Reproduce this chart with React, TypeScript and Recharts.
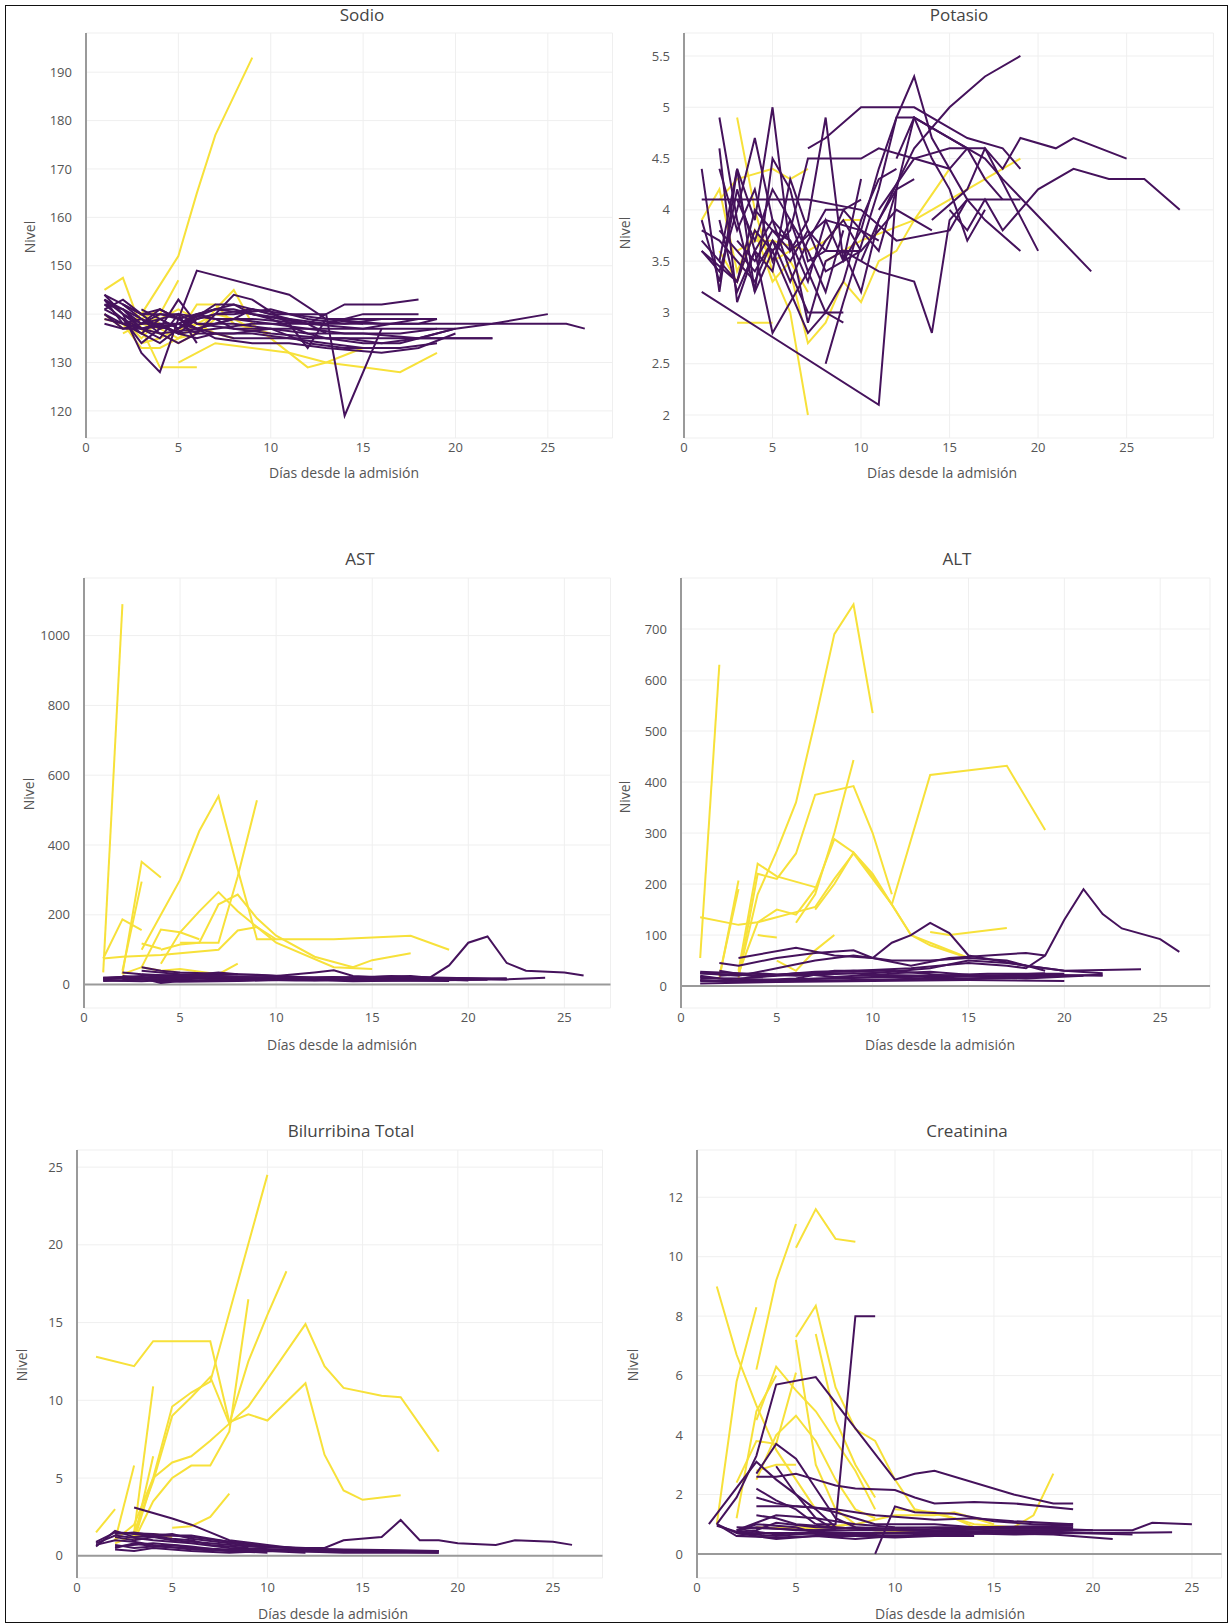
import { LineChart, Line, XAxis, YAxis, CartesianGrid, ReferenceLine } from 'recharts'

// cada serie: [día, valor]
type Serie = number[][]

const DIAS_TICKS = [0, 5, 10, 15, 20, 25]
const SODIO_TICKS = [120, 130, 140, 150, 160, 170, 180, 190]
const POTASIO_TICKS = [2, 2.5, 3, 3.5, 4, 4.5, 5, 5.5]
const AST_TICKS = [0, 200, 400, 600, 800, 1000]
const ALT_TICKS = [0, 100, 200, 300, 400, 500, 600, 700]
const BILI_TICKS = [0, 5, 10, 15, 20, 25]
const CREAT_TICKS = [0, 2, 4, 6, 8, 10, 12]

const SODIO_AMARILLO: Serie[] = [
  [[3, 140], [4, 146], [5, 152], [6, 165], [7, 177], [8, 185], [9, 193]],
  [[1, 145], [2, 147.5], [3, 137], [4, 129], [5, 129], [6, 129]],
  [[5, 130], [6, 132], [7, 134], [11, 132], [13, 130], [15, 129], [17, 128], [19, 132]],
  [[2, 138], [3, 136], [4, 140], [5, 147]],
  [[6, 136], [7, 141], [8, 145], [9, 138], [11, 132], [12, 129], [13, 130], [15, 133]],
  [[1, 139], [2, 138], [3, 133], [4, 133], [5, 135], [6, 136], [7, 139]],
  [[2, 137], [3, 140], [4, 138], [5, 136], [6, 142], [7, 142], [8, 138], [10, 136]],
  [[3, 137], [4, 136], [5, 134], [6, 136]],
  [[2, 139], [3, 135], [4, 139], [5, 141], [6, 139]],
  [[2, 136], [3, 138], [4, 137], [5, 135], [6, 138], [7, 140], [8, 139], [9, 137]],
  [[3, 134], [4, 135], [5, 137], [6, 138], [7, 136], [8, 135]],
  [[1, 140], [2, 137], [3, 139], [4, 141], [5, 139]],
]

const SODIO_MORADO: Serie[] = [
  [[1, 144], [2, 140], [3, 132], [4, 128], [5, 139], [6, 149], [11, 144], [13, 139], [15, 139], [17, 139], [19, 139]],
  [[1, 143], [2, 141], [3, 138], [4, 139], [5, 137], [6, 140], [8, 142], [10, 140], [12, 140], [13, 140], [14, 119], [16, 137]],
  [[1, 142], [2, 139], [3, 137], [5, 138], [7, 141], [9, 140], [12, 138], [14, 142], [16, 142], [18, 143]],
  [[1, 141], [2, 143], [3, 140], [4, 137], [5, 138], [6, 136], [8, 136], [10, 137], [12, 136], [15, 136], [18, 135], [20, 137], [22, 138], [25, 140]],
  [[1, 139], [2, 138], [3, 139], [5, 136], [7, 137], [9, 138], [11, 138], [14, 138], [17, 138], [19, 138], [22, 138], [24, 138], [26, 138], [27, 137]],
  [[1, 143], [2, 138], [3, 136], [4, 139], [5, 140], [6, 138], [8, 137], [10, 136], [13, 135], [16, 135], [19, 135], [22, 135]],
  [[2, 142], [3, 139], [4, 136], [5, 134], [6, 136], [8, 144], [9, 143], [11, 138], [12, 133], [13, 139], [15, 138]],
  [[1, 140], [2, 137], [3, 138], [4, 141], [5, 139], [6, 137], [7, 135], [9, 134], [11, 134], [13, 133], [16, 132], [18, 133], [20, 136]],
  [[2, 141], [3, 137], [4, 135], [5, 140], [6, 134]],
  [[1, 144], [2, 142], [3, 140], [5, 140], [7, 139], [9, 139], [12, 138], [15, 137], [18, 139], [19, 139]],
  [[2, 139], [3, 134], [4, 137], [5, 143], [6, 138], [8, 138], [10, 137], [12, 134], [14, 133], [16, 133]],
  [[3, 138], [4, 140], [5, 139], [7, 141], [8, 141], [10, 139], [12, 136], [13, 135], [15, 134], [17, 134], [19, 136], [20, 137]],
  [[1, 143], [2, 140], [3, 137], [4, 138], [5, 136], [6, 139], [7, 140], [9, 141], [11, 140], [13, 139], [16, 138], [18, 138], [19, 139]],
  [[1, 142], [2, 141], [3, 139], [4, 137], [5, 138], [6, 137], [7, 138], [8, 139], [10, 138], [12, 137], [14, 137], [17, 137], [20, 137]],
  [[2, 140], [3, 138], [4, 138], [5, 136], [6, 135], [7, 136], [9, 136], [11, 135], [13, 134], [15, 133], [17, 133], [19, 134]],
  [[1, 141], [2, 139], [3, 136], [4, 134], [5, 137], [7, 142], [8, 142], [9, 140], [11, 139], [13, 138], [15, 140], [18, 140]],
  [[3, 141], [4, 139], [5, 137], [6, 139], [7, 140], [8, 140], [10, 141], [12, 139], [14, 138], [16, 139], [18, 139]],
  [[1, 140], [2, 138], [4, 136], [6, 137], [8, 135], [10, 135], [12, 135], [14, 135], [16, 134], [18, 135], [20, 135], [22, 135]],
  [[2, 142], [3, 140], [4, 141], [5, 139], [6, 137], [8, 139], [9, 141], [10, 140], [12, 138], [13, 136]],
  [[1, 138], [2, 137], [3, 137], [4, 138], [5, 138], [6, 140], [7, 139], [8, 137], [10, 137], [12, 137], [14, 136], [17, 136], [19, 137]],
]

const POTASIO_AMARILLO: Serie[] = [
  [[3, 4.9], [4, 4.0], [5, 3.4], [6, 3.0], [7, 2.0]],
  [[3, 2.9], [4, 2.9], [5, 2.9]],
  [[6, 3.4], [7, 2.7], [8, 2.9], [9, 3.3], [10, 3.1], [11, 3.5], [12, 3.6], [13, 3.9], [15, 4.4]],
  [[8, 3.5], [9, 3.6], [10, 3.7], [13, 3.9], [15, 4.1], [17, 4.3], [19, 4.5]],
  [[1, 3.9], [2, 4.2], [3, 3.4], [4, 3.8], [5, 3.5], [6, 3.6]],
  [[2, 4.1], [3, 4.3], [5, 4.4], [6, 4.3], [7, 4.4]],
  [[3, 3.6], [4, 3.7], [5, 3.7], [7, 3.6], [8, 3.7], [9, 3.9], [10, 3.9]],
  [[2, 3.6], [3, 3.3], [4, 3.8], [5, 3.3], [6, 3.5], [7, 3.2]],
]

const POTASIO_MORADO: Serie[] = [
  [[1, 3.2], [11, 2.1], [12, 4.2], [13, 4.9], [14, 4.8], [16, 4.6], [17, 4.3], [18, 4.1]],
  [[8, 2.5], [9, 3.1], [11, 4.2], [12, 4.9], [13, 5.3], [14, 4.7], [16, 4.1], [17, 3.9], [19, 3.6]],
  [[10, 3.5], [11, 3.9], [13, 4.6], [15, 5.0], [17, 5.3], [19, 5.5]],
  [[14, 3.9], [16, 4.2], [17, 4.6], [18, 4.4], [19, 4.7], [21, 4.6], [22, 4.7], [25, 4.5]],
  [[15, 4.0], [16, 3.8], [17, 4.1], [18, 3.8], [20, 4.2], [22, 4.4], [24, 4.3], [26, 4.3], [28, 4.0]],
  [[12, 4.5], [13, 4.9], [15, 4.7], [17, 4.5], [18, 4.3], [23, 3.4]],
  [[11, 4.0], [13, 4.5], [15, 4.6], [17, 4.6], [20, 3.6]],
  [[9, 3.6], [11, 3.4], [13, 3.3], [14, 2.8], [15, 3.9], [16, 4.1], [19, 4.1]],
  [[1, 4.1], [4, 4.1], [7, 4.1], [10, 4.0], [12, 3.7], [15, 3.8], [16, 4.1]],
  [[7, 4.6], [8, 4.7], [10, 5.0], [13, 5.0], [15, 4.8], [16, 4.7], [18, 4.6], [19, 4.4]],
  [[2, 4.9], [3, 3.9], [4, 3.2], [5, 3.6], [7, 2.8], [8, 3.0], [9, 2.9]],
  [[1, 4.4], [2, 3.2], [3, 4.4], [4, 3.9], [5, 5.0], [6, 3.6], [7, 3.9], [8, 4.9], [9, 3.5], [10, 4.3]],
  [[1, 3.6], [2, 3.4], [3, 4.0], [4, 4.7], [5, 3.9], [6, 3.4], [7, 3.0], [9, 3.0]],
  [[2, 4.6], [3, 3.1], [4, 3.6], [5, 2.8], [6, 3.1], [7, 3.4], [8, 3.7], [9, 3.9], [10, 3.6]],
  [[1, 3.7], [2, 3.5], [3, 4.4], [4, 3.2], [5, 4.5], [6, 4.2], [7, 3.5], [8, 3.6], [9, 4.0], [11, 3.6], [12, 4.2], [13, 4.3]],
  [[2, 3.9], [3, 3.2], [4, 3.6], [5, 3.4], [6, 4.3], [7, 3.8], [8, 3.4], [10, 3.6], [11, 3.8], [12, 4.0], [14, 3.8]],
  [[1, 3.6], [3, 3.3], [4, 3.8], [5, 3.6], [6, 3.8], [7, 4.5], [10, 4.5], [11, 4.6], [13, 4.5], [15, 4.4], [16, 4.6]],
  [[3, 3.7], [4, 3.5], [5, 3.8], [6, 3.7], [7, 2.9], [8, 3.5], [9, 3.6], [10, 3.2], [11, 3.9], [12, 4.2]],
  [[2, 3.5], [3, 3.3], [4, 4.0], [6, 3.6], [8, 3.9], [10, 3.8], [11, 4.4], [12, 4.9], [13, 4.9], [14, 4.5], [15, 4.2], [16, 3.7], [17, 4.0]],
  [[1, 3.9], [2, 3.3], [3, 4.2], [4, 3.6], [5, 3.9], [6, 3.7], [7, 3.3], [8, 3.9], [9, 3.5], [10, 3.8], [11, 3.7]],
  [[2, 4.4], [3, 3.8], [4, 4.2], [5, 3.5], [6, 3.9], [7, 3.6], [8, 3.2], [9, 3.8]],
  [[1, 3.8], [2, 3.7], [3, 3.5], [4, 3.3], [5, 3.7], [6, 3.5], [7, 3.8], [8, 3.6], [9, 3.6], [10, 3.6]],
  [[3, 4.1], [4, 3.7], [5, 4.2], [6, 3.9], [7, 3.4], [8, 3.0], [9, 3.3], [10, 3.9], [11, 4.3], [12, 4.4]],
  [[2, 3.8], [3, 3.6], [4, 3.4], [5, 3.7], [6, 3.3], [7, 3.7], [8, 4.0], [9, 4.0], [10, 4.1]],
]

const AST_AMARILLO: Serie[] = [
  [[1, 35], [2, 1090]],
  [[1, 75], [2, 187], [3, 156]],
  [[2, 30], [3, 352], [4, 307]],
  [[2, 40], [3, 295]],
  [[3, 100], [4, 200], [5, 300], [6, 440], [7, 540], [8, 330], [9, 130], [10, 130], [13, 130], [17, 140], [19, 100]],
  [[4, 100], [5, 115], [6, 120], [7, 120], [8, 310], [9, 528]],
  [[4, 60], [5, 150], [6, 210], [7, 265], [8, 210], [10, 120], [13, 50], [15, 45]],
  [[5, 120], [6, 120], [7, 230], [8, 258], [9, 190], [10, 140], [12, 80], [14, 50], [15, 70], [17, 90]],
  [[3, 50], [4, 158], [5, 150], [6, 130]],
  [[1, 75], [2, 80], [4, 85], [7, 100], [8, 155], [9, 165], [10, 130]],
  [[2, 30], [3, 50], [4, 40], [5, 45], [7, 30], [8, 60]],
  [[3, 118], [4, 103]],
]

const AST_MORADO: Serie[] = [
  [[1, 20], [3, 25], [6, 30], [9, 28], [12, 20], [15, 22], [17, 25], [18, 20], [19, 55], [20, 120], [21, 138], [22, 62], [23, 40], [25, 35], [26, 26]],
  [[3, 50], [4, 40], [5, 35], [8, 30], [10, 25], [12, 35], [13, 41], [14, 25], [16, 20], [18, 20]],
  [[1, 18], [2, 22], [4, 15], [6, 18], [8, 12], [10, 15], [12, 18], [15, 20], [18, 15], [22, 15], [24, 20]],
  [[1, 15], [2, 20], [3, 18], [4, 5], [5, 10], [8, 15], [11, 12], [14, 14], [17, 18], [20, 12]],
  [[2, 35], [3, 30], [5, 25], [7, 35], [8, 30]],
  [[1, 12], [3, 10], [5, 15], [7, 20], [10, 22], [12, 18], [14, 20], [16, 25], [18, 20], [20, 18], [22, 15]],
  [[2, 15], [4, 25], [6, 20], [9, 18], [12, 15], [15, 12], [19, 10]],
  [[3, 40], [5, 30], [7, 25], [9, 20]],
  [[1, 10], [3, 15], [5, 8], [8, 10], [11, 15], [14, 10], [17, 12], [21, 14]],
  [[1, 20], [2, 18], [3, 22], [4, 10], [6, 12], [8, 18], [10, 20], [13, 22], [16, 18], [19, 16], [22, 18]],
  [[2, 25], [3, 20], [5, 18], [7, 22], [9, 15], [12, 14], [15, 18], [18, 16]],
  [[1, 14], [2, 12], [4, 20], [6, 25], [8, 20], [10, 15], [12, 12], [14, 16], [16, 15], [20, 15]],
  [[3, 30], [4, 22], [6, 28], [8, 22], [11, 20], [13, 18], [17, 22], [20, 18], [22, 16]],
]

const ALT_AMARILLO: Serie[] = [
  [[1, 55], [2, 630]],
  [[1, 135], [3, 120], [4, 125], [6, 145], [7, 155], [8, 210], [9, 260], [10, 210], [11, 160], [12, 100], [13, 85], [15, 55]],
  [[3, 20], [4, 180], [5, 265], [6, 360], [7, 520], [8, 690], [9, 748], [10, 535]],
  [[3, 15], [4, 220], [5, 210], [6, 260], [7, 375], [9, 392], [10, 300], [11, 180]],
  [[6, 124], [7, 180], [8, 300], [9, 443]],
  [[3, 25], [4, 125], [5, 150], [6, 140], [7, 190], [8, 288], [9, 262], [10, 220], [11, 160], [12, 100], [13, 80], [15, 55]],
  [[7, 150], [8, 200], [9, 262], [10, 215], [11, 160], [13, 414], [17, 432], [19, 306]],
  [[13, 106], [14, 100], [17, 114]],
  [[2, 15], [3, 207]],
  [[2, 20], [3, 190]],
  [[4, 100], [5, 95]],
  [[5, 50], [6, 30], [7, 70], [8, 100]],
  [[3, 30], [4, 240], [5, 215], [7, 194]],
]

const ALT_MORADO: Serie[] = [
  [[1, 25], [4, 20], [8, 28], [12, 35], [15, 45], [17, 40], [18, 35], [19, 60], [20, 130], [21, 190], [22, 141], [23, 113], [25, 92], [26, 67]],
  [[3, 55], [6, 75], [8, 60], [10, 55], [11, 85], [12, 100], [13, 124], [14, 104], [15, 60], [18, 40], [20, 30], [22, 25]],
  [[2, 45], [3, 40], [5, 55], [7, 65], [9, 70], [10, 55], [12, 40], [14, 55], [16, 60], [18, 65], [19, 60]],
  [[1, 25], [3, 20], [5, 35], [7, 50], [9, 60], [11, 50], [13, 50], [15, 55], [17, 50], [19, 30]],
  [[1, 15], [3, 15], [5, 20], [8, 25], [10, 25], [13, 35], [15, 50], [17, 45], [20, 30], [24, 33]],
  [[1, 10], [4, 10], [7, 15], [10, 18], [14, 20], [18, 18], [22, 22]],
  [[1, 5], [5, 8], [10, 10], [15, 12], [20, 10]],
  [[2, 20], [4, 25], [6, 20], [9, 25], [12, 15], [16, 20], [19, 25]],
  [[1, 20], [3, 10], [6, 15], [8, 30], [11, 30], [14, 20], [18, 15], [21, 20]],
  [[1, 28], [3, 25], [5, 22], [7, 28], [9, 30], [11, 25], [13, 28], [15, 22], [17, 20], [19, 22], [22, 20]],
  [[1, 12], [3, 8], [6, 10], [9, 12], [12, 14], [15, 15], [18, 16]],
  [[2, 30], [4, 18], [6, 25], [8, 18], [10, 22], [13, 20], [16, 24], [20, 24]],
  [[1, 18], [2, 15], [5, 12], [8, 15], [11, 18], [14, 12], [17, 18], [20, 20]],
]

const BILI_AMARILLO: Serie[] = [
  [[1, 12.8], [3, 12.2], [4, 13.8], [7, 13.8], [8, 8.6], [9, 9.1], [10, 8.7], [12, 11.1], [13, 6.5], [14, 4.2], [15, 3.6], [17, 3.9]],
  [[3, 1.0], [4, 5.0], [5, 9.6], [6, 10.5], [7, 11.2], [10, 24.5]],
  [[3, 1.5], [4, 4.8], [5, 9.0], [6, 10.2], [7, 11.5], [8, 8.5], [9, 12.5], [10, 15.5], [11, 18.3]],
  [[2, 1.0], [3, 2.0], [4, 5.0], [5, 6.0], [6, 6.4], [7, 7.4], [8, 8.5], [9, 9.6], [12, 14.9], [13, 12.2], [14, 10.8], [16, 10.3], [17, 10.2], [19, 6.7]],
  [[3, 1.0], [4, 3.5], [5, 5.0], [6, 5.8], [7, 5.8], [8, 8.0], [9, 16.5]],
  [[3, 1.5], [4, 10.9]],
  [[2, 1.0], [3, 5.8]],
  [[3, 1.0], [4, 6.4]],
  [[1, 1.5], [2, 3.0]],
  [[5, 1.8], [6, 1.9], [7, 2.5], [8, 4.0]],
  [[2, 0.8], [3, 1.3], [4, 1.4], [5, 1.2]],
]

const BILI_MORADO: Serie[] = [
  [[2, 1.5], [4, 1.4], [6, 1.2], [8, 0.9], [10, 0.6], [12, 0.5], [13, 0.5], [14, 1.0], [16, 1.2], [17, 2.3], [18, 1.0], [19, 1.0], [20, 0.8], [22, 0.7], [23, 1.0], [25, 0.9], [26, 0.7]],
  [[3, 3.1], [5, 2.4], [6, 2.0], [7, 1.5], [8, 1.0], [10, 0.7], [12, 0.4], [15, 0.3], [19, 0.2]],
  [[1, 0.6], [2, 1.6], [3, 1.2], [5, 1.3], [6, 1.3], [8, 0.9], [10, 0.6], [13, 0.4], [16, 0.3], [19, 0.3]],
  [[1, 0.8], [2, 1.3], [4, 1.0], [6, 0.8], [8, 0.5], [11, 0.4], [14, 0.3], [17, 0.3], [19, 0.3]],
  [[2, 0.4], [3, 0.3], [4, 0.5], [6, 0.3], [8, 0.2], [10, 0.3], [12, 0.2]],
  [[2, 0.7], [3, 0.5], [5, 0.7], [7, 0.4], [9, 0.3], [11, 0.3], [14, 0.2], [19, 0.2]],
  [[1, 0.9], [2, 1.5], [3, 1.4], [5, 1.1], [6, 1.0], [7, 0.7], [9, 0.5]],
  [[2, 0.6], [4, 0.8], [6, 0.6], [8, 0.3], [10, 0.2]],
  [[2, 1.2], [3, 1.0], [4, 1.2], [5, 1.0], [6, 0.9], [7, 0.8], [9, 0.6], [11, 0.5], [14, 0.4], [17, 0.35], [19, 0.3]],
  [[2, 0.5], [3, 0.8], [4, 0.6], [6, 0.5], [8, 0.4], [10, 0.35], [13, 0.3]],
  [[1, 0.7], [2, 1.0], [3, 0.9], [4, 0.7], [6, 0.4], [8, 0.3], [11, 0.3], [15, 0.25]],
  [[2, 1.4], [3, 1.5], [4, 1.3], [5, 1.4], [6, 1.1], [8, 0.8], [10, 0.5]],
]

const CREAT_AMARILLO: Serie[] = [
  [[5, 10.3], [6, 11.6], [7, 10.6], [8, 10.5]],
  [[3, 6.2], [4, 9.2], [5, 11.1]],
  [[1, 9.0], [2, 6.7], [3, 5.0], [4, 3.5], [5, 2.5], [6, 1.5]],
  [[1, 1.0], [2, 5.8], [3, 8.3]],
  [[5, 7.3], [6, 8.35], [7, 5.6], [8, 4.2], [9, 3.8], [10, 2.5], [11, 1.5], [13, 1.2], [14, 0.9]],
  [[5, 7.2], [6, 3.0], [7, 1.5], [8, 1.0]],
  [[6, 7.4], [7, 4.5], [8, 3.0], [9, 1.9]],
  [[3, 4.5], [4, 6.3], [5, 5.5], [6, 4.8], [7, 3.8], [8, 2.8], [9, 1.5]],
  [[3, 2.5], [4, 4.0], [5, 4.65], [6, 3.8], [7, 2.5], [8, 1.5], [9, 1.2]],
  [[2, 2.4], [3, 3.8], [4, 3.7], [5, 6.1]],
  [[3, 2.8], [4, 3.0], [5, 3.0]],
  [[10, 1.5], [12, 1.4], [14, 1.0], [16, 0.9], [17, 1.3], [18, 2.7]],
  [[2, 1.2], [3, 4.8], [4, 6.0]],
  [[4, 0.9], [6, 0.9], [8, 1.0], [10, 1.3], [12, 1.3], [13, 1.4], [14, 1.2], [15, 1.0]],
  [[3, 0.9], [5, 0.85], [7, 0.9], [9, 0.8], [11, 0.75]],
]

const CREAT_MORADO: Serie[] = [
  [[6, 1.0], [7, 1.0], [8, 8.0], [9, 8.0]],
  [[9, 0], [10, 1.6], [11, 1.4], [13, 1.35], [15, 1.1], [17, 1.0], [19, 1.0]],
  [[1, 1.0], [2, 1.9], [3, 3.3], [4, 5.7], [6, 5.95], [10, 2.5], [11, 2.7], [12, 2.8], [16, 2.0], [18, 1.7], [19, 1.7]],
  [[3, 2.6], [4, 2.6], [5, 2.7], [6, 2.5], [7, 2.3], [8, 2.2], [10, 2.15], [11, 1.9], [12, 1.7], [14, 1.75], [16, 1.7], [19, 1.5]],
  [[0.6, 1.0], [3, 3.1], [4, 2.5], [6, 1.5], [7, 0.9]],
  [[3, 2.7], [4, 3.7], [5, 3.2], [6, 2.2], [7, 1.2], [8, 0.9]],
  [[4, 2.95], [5, 2.0], [6, 1.2], [7, 0.8]],
  [[3, 2.2], [4, 1.8], [5, 1.5], [6, 1.0]],
  [[3, 1.9], [4, 1.7], [5, 1.6], [6, 1.55], [7, 1.4], [8, 1.2], [9, 1.0], [10, 1.0], [12, 1.0], [14, 0.9], [19, 0.95]],
  [[3, 1.6], [5, 1.6], [7, 1.5], [9, 1.3], [12, 1.15], [14, 1.2], [16, 1.1], [19, 1.0]],
  [[2, 0.8], [4, 1.3], [6, 1.2], [8, 1.0], [10, 0.9], [14, 0.85], [18, 0.85], [20, 0.8], [22, 0.8], [23, 1.05], [25, 1.0]],
  [[1, 1.0], [2, 0.7], [4, 0.6], [6, 0.7], [9, 0.7], [12, 0.65], [15, 0.7], [18, 0.7], [21, 0.7], [24, 0.73]],
  [[2, 0.6], [3, 0.7], [5, 0.7], [8, 0.6], [11, 0.6], [15, 0.7], [18, 0.65], [21, 0.5]],
  [[2, 0.8], [3, 0.9], [5, 0.8], [7, 0.8], [10, 0.8], [13, 0.75], [16, 0.8], [20, 0.8]],
  [[2, 0.7], [4, 0.5], [6, 0.6], [8, 0.5], [10, 0.6], [12, 0.6], [14, 0.7]],
  [[1, 0.95], [2, 0.75], [3, 0.8], [4, 1.05], [6, 0.9], [9, 0.85], [12, 0.9], [16, 0.9], [19, 0.9]],
  [[2, 0.7], [3, 0.75], [4, 0.65], [6, 0.75], [8, 0.7], [10, 0.7], [12, 0.75], [14, 0.7], [16, 0.75], [19, 0.8]],
  [[2, 0.9], [4, 0.85], [6, 0.8], [8, 0.9], [10, 0.85], [12, 0.8], [15, 0.85], [19, 0.85]],
  [[1, 1.0], [2, 0.6], [4, 0.55], [6, 0.6], [8, 0.6], [10, 0.55], [12, 0.6], [14, 0.6]],
  [[3, 1.3], [4, 1.2], [5, 1.0], [7, 0.9], [9, 0.8], [12, 0.8], [15, 0.75], [18, 0.75], [20, 0.7]],
  [[2, 0.75], [3, 1.0], [5, 0.9], [6, 0.7], [8, 0.65], [11, 0.7], [13, 0.7], [16, 0.65], [19, 0.7], [22, 0.65]],
]

const AMARILLO = '#f7e13a'
const MORADO = '#45125c'
const FUENTE = '"Open Sans", "DejaVu Sans", sans-serif'

interface PanelProps {
  titulo: string
  // area de trazado en px de pagina
  x0: number
  x1: number
  y0: number
  y1: number
  xMax: number
  yDom: [number, number]
  yTicks: number[]
  amarillo: Serie[]
  morado: Serie[]
  tituloPos: [number, number]
  ejeXPos: [number, number]
  nivelPos: [number, number]
}

const aPuntos = (s: Serie) => s.map(([x, y]) => ({ x, y }))

function Panel(p: PanelProps) {
  const w = p.x1 - p.x0 + 65
  const h = p.y1 - p.y0 + 40
  const tick = { fill: '#555', fontSize: 13, fontFamily: FUENTE }
  return (
    <>
      <div style={{ position: 'absolute', left: p.x0 - 60, top: p.y0 - 10 }}>
        <LineChart width={w} height={h} margin={{ top: 10, right: 5, left: 0, bottom: 0 }}>
          <CartesianGrid stroke="#efefef" strokeWidth={1} />
          <XAxis
            type="number"
            dataKey="x"
            domain={[0, p.xMax]}
            ticks={DIAS_TICKS}
            interval={0}
            allowDataOverflow
            axisLine={false}
            tickLine={false}
            tickSize={0}
            tickMargin={5}
            height={30}
            tick={tick}
          />
          <YAxis
            type="number"
            domain={p.yDom}
            ticks={p.yTicks}
            interval={0}
            allowDataOverflow
            axisLine={false}
            tickLine={false}
            tickSize={6}
            tickMargin={8}
            width={60}
            tick={tick}
          />
          <ReferenceLine x={0} stroke="#9a9a9a" strokeWidth={2} />
          {p.yDom[0] < 0 && <ReferenceLine y={0} stroke="#9a9a9a" strokeWidth={2} />}
          {p.amarillo.map((s, i) => (
            <Line
              key={'a' + i}
              data={aPuntos(s)}
              dataKey="y"
              type="linear"
              stroke={AMARILLO}
              strokeWidth={2}
              dot={false}
              isAnimationActive={false}
            />
          ))}
          {p.morado.map((s, i) => (
            <Line
              key={'m' + i}
              data={aPuntos(s)}
              dataKey="y"
              type="linear"
              stroke={MORADO}
              strokeWidth={2}
              dot={false}
              isAnimationActive={false}
            />
          ))}
        </LineChart>
      </div>
      <div
        style={{
          position: 'absolute',
          left: p.tituloPos[0] - 150,
          top: p.tituloPos[1] - 12,
          width: 300,
          lineHeight: '24px',
          textAlign: 'center',
          fontFamily: FUENTE,
          fontSize: 17,
          color: '#444',
        }}
      >
        {p.titulo}
      </div>
      <div
        style={{
          position: 'absolute',
          left: p.ejeXPos[0] - 150,
          top: p.ejeXPos[1] - 10,
          width: 300,
          lineHeight: '20px',
          textAlign: 'center',
          fontFamily: FUENTE,
          fontSize: 14,
          color: '#555',
        }}
      >
        Días desde la admisión
      </div>
      <div
        style={{
          position: 'absolute',
          left: p.nivelPos[0] - 30,
          top: p.nivelPos[1] - 10,
          width: 60,
          lineHeight: '20px',
          textAlign: 'center',
          fontFamily: FUENTE,
          fontSize: 14,
          color: '#555',
          transform: 'rotate(-90deg)',
        }}
      >
        Nivel
      </div>
    </>
  )
}

export default function App() {
  return (
    <div style={{ position: 'absolute', left: 0, top: 0, width: 1231, height: 1624, background: '#fff' }}>
      <div
        style={{
          position: 'absolute',
          left: 5,
          top: 5,
          width: 1221,
          height: 1616,
          border: '1px solid #111',
        }}
      />
      <Panel
        titulo="Sodio"
        x0={85.5} x1={612} y0={33} y1={438}
        xMax={28.5} yDom={[114.4, 198.1]} yTicks={SODIO_TICKS}
        amarillo={SODIO_AMARILLO} morado={SODIO_MORADO}
        tituloPos={[362, 15]} ejeXPos={[344, 473]} nivelPos={[29.5, 237]}
      />
      <Panel
        titulo="Potasio"
        x0={683.6} x1={1213} y0={33} y1={438}
        xMax={29.9} yDom={[1.776, 5.724]} yTicks={POTASIO_TICKS}
        amarillo={POTASIO_AMARILLO} morado={POTASIO_MORADO}
        tituloPos={[959, 15]} ejeXPos={[942, 473]} nivelPos={[625, 233]}
      />
      <Panel
        titulo="AST"
        x0={83.5} x1={610} y0={578} y1={1008}
        xMax={27.4} yDom={[-67, 1165]} yTicks={AST_TICKS}
        amarillo={AST_AMARILLO} morado={AST_MORADO}
        tituloPos={[360, 559]} ejeXPos={[342, 1045]} nivelPos={[29, 794]}
      />
      <Panel
        titulo="ALT"
        x0={681} x1={1210} y0={578} y1={1008}
        xMax={27.6} yDom={[-43, 800]} yTicks={ALT_TICKS}
        amarillo={ALT_AMARILLO} morado={ALT_MORADO}
        tituloPos={[957, 559]} ejeXPos={[940, 1045]} nivelPos={[625, 797]}
      />
      <Panel
        titulo="Bilurribina Total"
        x0={76.5} x1={602} y0={1150} y1={1578}
        xMax={27.6} yDom={[-1.43, 26.1]} yTicks={BILI_TICKS}
        amarillo={BILI_AMARILLO} morado={BILI_MORADO}
        tituloPos={[351, 1131]} ejeXPos={[333, 1614]} nivelPos={[22, 1365]}
      />
      <Panel
        titulo="Creatinina"
        x0={697.4} x1={1222} y0={1150} y1={1578}
        xMax={26.5} yDom={[-0.81, 13.59]} yTicks={CREAT_TICKS}
        amarillo={CREAT_AMARILLO} morado={CREAT_MORADO}
        tituloPos={[967, 1131]} ejeXPos={[950, 1614]} nivelPos={[633, 1365]}
      />
    </div>
  )
}
